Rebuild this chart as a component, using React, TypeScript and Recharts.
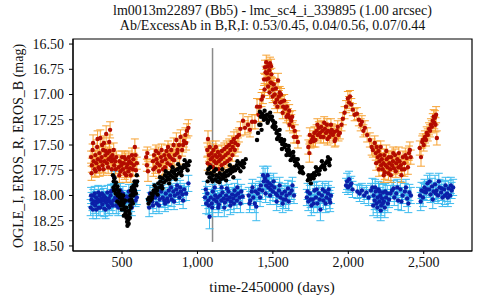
import {
  ErrorBar,
  ReferenceArea,
  ReferenceLine,
  Scatter,
  ScatterChart,
  XAxis,
  YAxis,
} from "recharts";

// [day, mag, err]
const erosR: [number, number, number][] = [
  [295, 17.62, 0.06], [300, 17.7, 0.07], [305, 17.55, 0.06], [312, 17.66, 0.06], [318, 17.74, 0.07],
  [323, 17.6, 0.05], [330, 17.68, 0.06], [335, 17.52, 0.07], [340, 17.64, 0.06], [345, 17.72, 0.06],
  [350, 17.58, 0.06], [356, 17.43, 0.08], [360, 17.66, 0.05], [365, 17.62, 0.06], [370, 17.7, 0.07],
  [375, 17.55, 0.06], [380, 17.48, 0.07], [385, 17.66, 0.05], [390, 17.6, 0.06], [395, 17.39, 0.08],
  [400, 17.68, 0.06], [405, 17.58, 0.06], [410, 17.64, 0.05], [415, 17.47, 0.07], [421, 17.35, 0.08],
  [425, 17.62, 0.06], [430, 17.66, 0.05], [436, 17.6, 0.06], [442, 17.64, 0.06], [448, 17.7, 0.05],
  [455, 17.66, 0.06], [462, 17.62, 0.06],
  [298, 17.78, 0.07], [308, 17.48, 0.08], [326, 17.76, 0.06], [338, 17.44, 0.08], [352, 17.74, 0.07],
  [368, 17.5, 0.07], [378, 17.74, 0.06], [392, 17.56, 0.07], [408, 17.72, 0.06], [418, 17.56, 0.07],
  [432, 17.74, 0.06], [445, 17.55, 0.07], [458, 17.74, 0.07],
  [478, 17.72, 0.06], [484, 17.66, 0.06], [490, 17.76, 0.06], [495, 17.7, 0.05], [500, 17.62, 0.06],
  [506, 17.74, 0.06], [512, 17.68, 0.05], [518, 17.78, 0.06], [524, 17.64, 0.06], [530, 17.72, 0.05],
  [536, 17.69, 0.06], [542, 17.76, 0.06], [548, 17.66, 0.06], [554, 17.73, 0.06], [560, 17.68, 0.05],
  [566, 17.6, 0.07], [572, 17.74, 0.06], [578, 17.7, 0.06], [585, 17.52, 0.08], [592, 17.75, 0.06],
  [598, 17.68, 0.06],
  [482, 17.8, 0.07], [498, 17.68, 0.06], [515, 17.62, 0.06], [528, 17.8, 0.07], [545, 17.62, 0.06],
  [558, 17.8, 0.07], [575, 17.64, 0.06], [590, 17.6, 0.07],
  [660, 17.62, 0.07], [665, 17.7, 0.06], [668, 17.58, 0.06], [672, 17.76, 0.1],
  [705, 17.66, 0.06], [712, 17.6, 0.06], [720, 17.72, 0.06], [728, 17.64, 0.05], [735, 17.68, 0.06],
  [742, 17.58, 0.06], [750, 17.7, 0.05], [758, 17.62, 0.06], [765, 17.66, 0.06], [772, 17.74, 0.06],
  [780, 17.6, 0.05], [788, 17.64, 0.06], [795, 17.56, 0.06], [802, 17.68, 0.06], [810, 17.6, 0.05],
  [818, 17.62, 0.06], [826, 17.55, 0.06], [835, 17.64, 0.06], [842, 17.5, 0.07], [850, 17.6, 0.06],
  [860, 17.45, 0.07], [868, 17.55, 0.06], [878, 17.5, 0.06], [888, 17.42, 0.07], [898, 17.55, 0.06],
  [910, 17.46, 0.06], [920, 17.4, 0.07], [930, 17.36, 0.07], [940, 17.33, 0.08],
  [708, 17.74, 0.07], [725, 17.56, 0.06], [745, 17.76, 0.07], [762, 17.55, 0.06], [785, 17.72, 0.07],
  [805, 17.52, 0.06], [822, 17.7, 0.06], [845, 17.65, 0.07], [865, 17.58, 0.06], [882, 17.62, 0.07],
  [905, 17.5, 0.07], [925, 17.48, 0.07],
  [1065, 17.55, 0.07], [1070, 17.44, 0.08], [1076, 17.6, 0.06], [1082, 17.52, 0.06], [1088, 17.64, 0.06],
  [1094, 17.58, 0.06], [1100, 17.62, 0.05], [1106, 17.55, 0.06], [1112, 17.66, 0.06], [1118, 17.6, 0.06],
  [1124, 17.68, 0.05], [1130, 17.62, 0.06], [1136, 17.57, 0.06], [1142, 17.66, 0.06], [1148, 17.6, 0.05],
  [1155, 17.64, 0.06], [1162, 17.56, 0.06], [1170, 17.62, 0.06], [1178, 17.54, 0.06], [1186, 17.6, 0.05],
  [1194, 17.52, 0.06], [1202, 17.58, 0.06], [1210, 17.5, 0.06], [1218, 17.55, 0.06], [1226, 17.47, 0.06],
  [1234, 17.52, 0.06], [1242, 17.44, 0.07], [1250, 17.48, 0.06], [1262, 17.42, 0.07], [1275, 17.4, 0.07],
  [1285, 17.34, 0.07],
  [1068, 17.68, 0.07], [1085, 17.7, 0.06], [1104, 17.72, 0.06], [1122, 17.52, 0.06], [1140, 17.74, 0.06],
  [1160, 17.7, 0.06], [1180, 17.68, 0.06], [1198, 17.66, 0.06], [1215, 17.64, 0.06], [1232, 17.6, 0.06],
  [1248, 17.55, 0.06], [1268, 17.5, 0.07],
  [1302, 17.26, 0.07], [1315, 17.33, 0.07], [1335, 17.3, 0.08], [1348, 17.35, 0.07], [1362, 17.27, 0.07],
  [1381, 17.27, 0.07], [1395, 17.12, 0.08], [1405, 17.2, 0.07], [1414, 17.12, 0.07], [1425, 17.05, 0.07],
  [1434, 17.02, 0.07],
  [1442, 16.85, 0.06], [1448, 16.73, 0.07], [1452, 16.78, 0.06], [1456, 16.68, 0.07], [1461, 16.79, 0.06],
  [1466, 16.72, 0.06], [1471, 16.84, 0.06], [1476, 16.76, 0.06], [1481, 16.69, 0.06], [1486, 16.88, 0.06],
  [1490, 16.8, 0.06], [1494, 16.89, 0.06], [1500, 16.95, 0.06], [1506, 16.9, 0.06], [1512, 17.0, 0.06],
  [1520, 16.94, 0.06], [1527, 17.05, 0.06], [1534, 16.86, 0.07], [1540, 17.02, 0.06], [1548, 17.08, 0.06],
  [1554, 17.0, 0.06], [1560, 17.07, 0.06], [1568, 17.12, 0.06], [1575, 17.06, 0.06], [1582, 17.14, 0.06],
  [1593, 17.12, 0.06], [1600, 17.2, 0.06], [1608, 17.16, 0.06], [1613, 17.23, 0.06], [1622, 17.26, 0.06],
  [1633, 17.32, 0.06], [1645, 17.36, 0.06], [1655, 17.42, 0.06], [1666, 17.47, 0.06],
  [1445, 16.95, 0.06], [1458, 16.85, 0.06], [1468, 16.92, 0.06], [1478, 16.98, 0.06], [1488, 16.72, 0.07],
  [1498, 17.02, 0.06], [1515, 17.08, 0.06], [1530, 17.12, 0.06], [1545, 16.98, 0.06], [1565, 17.18, 0.06],
  [1590, 17.22, 0.06], [1610, 17.3, 0.06], [1628, 17.22, 0.06], [1640, 17.42, 0.06],
  [1735, 17.52, 0.07], [1742, 17.58, 0.09], [1750, 17.47, 0.06], [1759, 17.45, 0.06], [1766, 17.42, 0.06],
  [1775, 17.38, 0.06], [1782, 17.45, 0.07], [1790, 17.36, 0.06], [1798, 17.4, 0.06], [1805, 17.33, 0.06],
  [1812, 17.38, 0.06], [1820, 17.32, 0.06], [1828, 17.36, 0.06], [1836, 17.42, 0.06], [1845, 17.34, 0.06],
  [1852, 17.38, 0.06], [1858, 17.3, 0.06], [1866, 17.36, 0.06], [1874, 17.42, 0.06], [1882, 17.38, 0.06],
  [1890, 17.35, 0.06], [1898, 17.4, 0.06], [1906, 17.37, 0.06], [1915, 17.44, 0.07], [1925, 17.36, 0.06],
  [1935, 17.4, 0.06], [1944, 17.38, 0.06], [1955, 17.3, 0.06], [1964, 17.24, 0.06], [1975, 17.18, 0.06],
  [1985, 17.12, 0.06], [1997, 17.04, 0.07], [2005, 17.08, 0.06], [2011, 17.02, 0.06], [2020, 17.1, 0.06],
  [2030, 17.15, 0.06], [2042, 17.2, 0.06], [2057, 17.19, 0.06], [2070, 17.25, 0.06], [2082, 17.3, 0.06],
  [2090, 17.27, 0.06], [2100, 17.36, 0.06], [2110, 17.33, 0.07], [2125, 17.4, 0.07], [2143, 17.45, 0.07],
  [2155, 17.52, 0.08], [2163, 17.55, 0.07],
  [1745, 17.4, 0.07], [1770, 17.46, 0.06], [1795, 17.3, 0.06], [1818, 17.42, 0.06], [1840, 17.28, 0.06],
  [1862, 17.44, 0.06], [1885, 17.3, 0.06], [1910, 17.46, 0.06], [1930, 17.32, 0.06],
  [2175, 17.48, 0.07], [2182, 17.58, 0.07], [2188, 17.52, 0.06], [2195, 17.62, 0.06], [2200, 17.56, 0.06],
  [2206, 17.66, 0.06], [2212, 17.6, 0.06], [2218, 17.7, 0.06], [2222, 17.64, 0.06], [2228, 17.74, 0.06],
  [2233, 17.68, 0.06], [2238, 17.6, 0.06], [2242, 17.77, 0.07], [2248, 17.7, 0.06], [2254, 17.64, 0.06],
  [2260, 17.72, 0.06], [2266, 17.78, 0.07], [2272, 17.68, 0.06], [2278, 17.74, 0.06], [2284, 17.62, 0.06],
  [2290, 17.7, 0.06], [2296, 17.66, 0.06], [2302, 17.73, 0.06], [2310, 17.6, 0.06], [2318, 17.68, 0.06],
  [2325, 17.64, 0.06], [2332, 17.72, 0.06], [2340, 17.66, 0.06], [2348, 17.7, 0.06], [2355, 17.74, 0.06],
  [2362, 17.62, 0.06], [2370, 17.68, 0.06], [2378, 17.6, 0.07], [2388, 17.63, 0.06], [2395, 17.72, 0.07],
  [2402, 17.58, 0.07], [2408, 17.55, 0.08], [2414, 17.62, 0.07],
  [2185, 17.68, 0.07], [2203, 17.74, 0.07], [2215, 17.52, 0.06], [2235, 17.8, 0.07], [2252, 17.56, 0.06],
  [2268, 17.62, 0.06], [2282, 17.8, 0.07], [2298, 17.58, 0.06], [2315, 17.76, 0.06], [2335, 17.58, 0.06],
  [2352, 17.8, 0.07], [2372, 17.74, 0.07],
  [2474, 17.53, 0.07], [2482, 17.62, 0.09], [2490, 17.47, 0.06], [2494, 17.45, 0.06], [2500, 17.5, 0.06],
  [2508, 17.42, 0.06], [2515, 17.45, 0.06], [2520, 17.38, 0.06], [2527, 17.4, 0.06], [2535, 17.34, 0.06],
  [2542, 17.36, 0.06], [2548, 17.3, 0.06], [2554, 17.32, 0.06], [2560, 17.26, 0.07], [2566, 17.22, 0.07],
  [2570, 17.28, 0.06], [2574, 17.23, 0.07], [2578, 17.3, 0.07], [2582, 17.2, 0.08], [2587, 17.43, 0.07],
];

// [day, mag, err]
const erosB: [number, number, number][] = [
  [292, 18.12, 0.08], [298, 18.04, 0.07], [304, 18.08, 0.07], [310, 18.0, 0.06], [316, 18.06, 0.07],
  [322, 18.1, 0.08], [328, 18.02, 0.06], [334, 18.07, 0.07], [340, 18.04, 0.06], [346, 18.12, 0.08],
  [352, 18.0, 0.06], [358, 18.06, 0.07], [364, 18.03, 0.06], [370, 18.09, 0.07], [376, 18.05, 0.06],
  [382, 18.13, 0.08], [388, 18.02, 0.06], [394, 18.07, 0.07], [400, 18.04, 0.06], [406, 18.1, 0.08],
  [412, 18.03, 0.06], [418, 18.06, 0.07], [424, 18.0, 0.06], [430, 18.08, 0.07], [436, 17.95, 0.06],
  [442, 18.05, 0.07], [448, 17.82, 0.06], [455, 18.02, 0.06], [462, 18.1, 0.08], [470, 18.04, 0.06],
  [478, 18.0, 0.07], [486, 18.06, 0.06], [494, 18.02, 0.07], [502, 18.08, 0.08], [510, 18.03, 0.06],
  [520, 18.06, 0.07], [530, 18.01, 0.06], [540, 18.05, 0.07], [550, 18.02, 0.06], [560, 18.08, 0.08],
  [570, 18.0, 0.06], [580, 17.98, 0.07], [590, 18.05, 0.06], [598, 18.02, 0.07],
  [295, 18.0, 0.08], [307, 18.14, 0.09], [319, 17.98, 0.07], [331, 18.14, 0.09], [343, 17.97, 0.07],
  [355, 18.12, 0.08], [367, 17.98, 0.07], [379, 18.0, 0.07], [391, 18.14, 0.09], [403, 17.97, 0.07],
  [415, 18.12, 0.08], [427, 17.96, 0.07], [439, 18.1, 0.08], [458, 17.96, 0.07], [475, 18.12, 0.08],
  [490, 17.95, 0.07], [506, 17.98, 0.07], [525, 18.12, 0.09], [545, 17.96, 0.07], [565, 18.12, 0.08],
  [585, 17.95, 0.07],
  [680, 18.12, 0.09], [690, 18.04, 0.07], [700, 18.06, 0.07], [710, 17.98, 0.06], [720, 18.02, 0.07],
  [730, 18.08, 0.08], [740, 18.0, 0.06], [750, 18.04, 0.07], [760, 17.96, 0.06], [770, 18.02, 0.07],
  [780, 18.05, 0.07], [790, 17.98, 0.06], [800, 18.03, 0.07], [810, 17.95, 0.06], [820, 18.0, 0.06],
  [830, 18.04, 0.07], [840, 17.96, 0.06], [850, 18.0, 0.07], [860, 17.94, 0.06], [870, 17.98, 0.06],
  [880, 18.02, 0.07], [890, 17.96, 0.06], [900, 17.99, 0.07], [912, 17.94, 0.06], [925, 17.98, 0.07],
  [940, 17.88, 0.08],
  [685, 17.98, 0.08], [705, 18.1, 0.08], [725, 17.95, 0.07], [745, 18.1, 0.08], [765, 17.92, 0.07],
  [785, 18.08, 0.08], [805, 18.06, 0.08], [825, 17.92, 0.07], [845, 18.06, 0.08], [865, 17.9, 0.07],
  [885, 17.92, 0.07], [905, 18.05, 0.08],
  [1050, 18.02, 0.08], [1058, 18.08, 0.1], [1065, 17.98, 0.07], [1072, 18.05, 0.08], [1080, 18.21, 0.12],
  [1088, 18.02, 0.08], [1095, 18.08, 0.09], [1102, 17.96, 0.07], [1110, 18.04, 0.08], [1118, 18.0, 0.07],
  [1126, 18.06, 0.08], [1134, 18.02, 0.07], [1142, 18.09, 0.08], [1150, 18.0, 0.07], [1158, 18.05, 0.08],
  [1166, 17.97, 0.07], [1174, 18.03, 0.08], [1182, 18.07, 0.08], [1190, 18.0, 0.07], [1198, 18.04, 0.07],
  [1206, 17.96, 0.07], [1214, 18.02, 0.08], [1222, 18.06, 0.08], [1230, 17.99, 0.07], [1238, 18.03, 0.07],
  [1246, 17.95, 0.07], [1254, 18.0, 0.07], [1262, 18.05, 0.08], [1270, 17.98, 0.07], [1280, 18.02, 0.07],
  [1290, 17.96, 0.07], [1300, 18.01, 0.07],
  [1055, 17.94, 0.08], [1075, 18.1, 0.09], [1098, 18.12, 0.09], [1115, 17.92, 0.08], [1138, 18.12, 0.09],
  [1160, 17.92, 0.08], [1178, 18.12, 0.09], [1195, 17.93, 0.08], [1218, 18.1, 0.09], [1242, 18.08, 0.09],
  [1265, 17.92, 0.08], [1285, 18.08, 0.09],
  [1340, 18.0, 0.08], [1350, 18.05, 0.09], [1360, 17.96, 0.08], [1370, 18.02, 0.08], [1380, 18.08, 0.09],
  [1390, 18.11, 0.14], [1400, 17.98, 0.08], [1410, 17.94, 0.08], [1420, 17.9, 0.08], [1430, 17.95, 0.09],
  [1440, 17.86, 0.08], [1448, 17.83, 0.1], [1455, 17.9, 0.08], [1462, 17.86, 0.08], [1470, 17.92, 0.09],
  [1478, 17.88, 0.08], [1485, 17.94, 0.08], [1492, 17.9, 0.08], [1500, 17.96, 0.09], [1510, 17.92, 0.08],
  [1520, 17.98, 0.08], [1530, 18.0, 0.09], [1540, 17.95, 0.08], [1550, 18.02, 0.09], [1560, 17.98, 0.08],
  [1570, 18.04, 0.09], [1580, 17.96, 0.08], [1590, 18.0, 0.09], [1600, 17.93, 0.08], [1612, 17.98, 0.08],
  [1625, 17.95, 0.09], [1640, 18.0, 0.08],
  [1345, 18.08, 0.09], [1365, 17.92, 0.08], [1385, 17.96, 0.08], [1415, 18.02, 0.09], [1435, 17.8, 0.09],
  [1452, 17.98, 0.09], [1465, 17.8, 0.09], [1482, 18.0, 0.09], [1505, 17.86, 0.08], [1525, 18.06, 0.09],
  [1545, 17.9, 0.08], [1565, 18.08, 0.09], [1585, 18.04, 0.09], [1605, 18.06, 0.09], [1630, 17.9, 0.08],
  [1725, 18.02, 0.08], [1735, 18.06, 0.09], [1745, 17.98, 0.08], [1755, 18.1, 0.1], [1765, 18.04, 0.08],
  [1775, 17.95, 0.08], [1785, 18.02, 0.09], [1795, 18.08, 0.09], [1805, 17.98, 0.08], [1815, 18.14, 0.11],
  [1825, 18.0, 0.08], [1835, 18.05, 0.09], [1845, 17.96, 0.08], [1855, 18.02, 0.08], [1865, 17.98, 0.08],
  [1875, 18.04, 0.09], [1885, 18.0, 0.08],
  [1730, 17.96, 0.08], [1750, 18.04, 0.08], [1770, 18.08, 0.09], [1790, 17.94, 0.08], [1810, 18.04, 0.08],
  [1830, 17.94, 0.08], [1850, 18.08, 0.09], [1870, 17.94, 0.08], [1880, 18.07, 0.09],
  [1985, 17.9, 0.07], [1992, 17.86, 0.08], [1998, 17.92, 0.07], [2005, 17.84, 0.08], [2012, 17.9, 0.07],
  [2020, 17.88, 0.07], [2028, 17.94, 0.08],
  [2060, 17.96, 0.07], [2075, 17.98, 0.08], [2090, 17.95, 0.07], [2105, 18.0, 0.08], [2120, 17.97, 0.07],
  [2135, 18.02, 0.08], [2150, 17.95, 0.07], [2160, 17.92, 0.09], [2168, 18.0, 0.08], [2175, 18.05, 0.09],
  [2182, 17.96, 0.08], [2188, 18.08, 0.09], [2195, 18.02, 0.08], [2200, 17.94, 0.08], [2206, 18.06, 0.09],
  [2212, 18.0, 0.08], [2218, 18.1, 0.1], [2224, 18.03, 0.08], [2230, 17.97, 0.08], [2236, 18.06, 0.09],
  [2242, 18.12, 0.1], [2250, 18.02, 0.08], [2258, 17.98, 0.08], [2270, 18.04, 0.08], [2290, 17.95, 0.08],
  [2305, 18.02, 0.08], [2318, 17.98, 0.08], [2330, 18.05, 0.09], [2345, 17.94, 0.08], [2360, 18.0, 0.08],
  [2375, 17.96, 0.08], [2390, 18.03, 0.08], [2405, 17.97, 0.08], [2415, 18.0, 0.08],
  [2165, 18.1, 0.1], [2178, 17.92, 0.08], [2192, 18.12, 0.1], [2208, 17.96, 0.08], [2215, 18.15, 0.1],
  [2228, 18.08, 0.09], [2245, 17.96, 0.08], [2262, 18.08, 0.09], [2280, 17.98, 0.08], [2300, 17.93, 0.08],
  [2325, 17.92, 0.08], [2352, 18.06, 0.09], [2382, 17.92, 0.08], [2398, 18.08, 0.09],
  [2475, 18.0, 0.08], [2485, 17.95, 0.08], [2495, 18.02, 0.09], [2505, 17.92, 0.08], [2515, 17.97, 0.08],
  [2525, 17.88, 0.08], [2535, 17.94, 0.08], [2545, 17.99, 0.08], [2555, 17.91, 0.08], [2565, 17.96, 0.08],
  [2575, 17.89, 0.09], [2585, 17.95, 0.08], [2595, 18.0, 0.08], [2605, 17.92, 0.08], [2615, 17.97, 0.08],
  [2625, 18.02, 0.09], [2635, 17.94, 0.08], [2645, 17.9, 0.08], [2655, 17.98, 0.08], [2665, 17.93, 0.08],
  [2675, 18.0, 0.08], [2685, 17.95, 0.08], [2695, 17.92, 0.08],
  [2480, 18.06, 0.09], [2500, 17.96, 0.08], [2520, 17.94, 0.08], [2540, 17.86, 0.08], [2560, 18.04, 0.09],
  [2580, 17.98, 0.08], [2600, 17.86, 0.08], [2620, 17.93, 0.08], [2640, 18.0, 0.09], [2660, 18.02, 0.09],
  [2680, 17.9, 0.08],
];

// [day, mag]
const ogleI: [number, number][] = [
  [440, 17.8], [445, 17.86], [448, 17.95], [450, 17.83], [455, 17.9], [460, 17.87], [465, 17.94],
  [470, 17.91], [472, 18.0], [475, 17.98], [480, 17.95], [485, 18.02], [490, 17.99], [492, 18.1],
  [495, 18.06], [500, 18.03], [505, 18.1], [508, 18.0], [510, 18.08], [514, 18.14], [518, 18.12],
  [520, 18.05], [522, 18.18], [526, 18.16], [530, 18.22], [534, 18.26], [538, 18.2], [542, 18.24],
  [546, 18.15], [548, 18.05], [550, 18.18], [554, 18.1], [558, 18.12], [560, 17.95], [562, 18.04],
  [566, 18.06], [570, 17.98], [575, 18.0], [577, 17.9], [580, 17.93], [585, 17.95], [590, 17.88],
  [595, 17.9], [600, 17.86],
  [443, 17.92], [458, 17.98], [468, 18.06], [482, 18.08], [498, 18.14], [512, 18.2], [528, 18.12],
  [536, 18.3], [544, 18.28], [552, 18.22], [556, 18.0], [565, 17.92], [572, 18.08], [583, 17.86],
  [592, 17.98], [598, 17.8],
  [672, 18.04], [680, 18.02], [688, 18.05], [695, 17.98], [702, 18.0], [710, 17.95], [718, 17.97],
  [725, 17.92], [732, 17.95], [740, 17.88], [748, 17.92], [755, 17.86], [762, 17.9], [770, 17.83],
  [778, 17.87], [785, 17.8], [792, 17.85], [800, 17.82], [808, 17.78], [815, 17.84], [822, 17.8],
  [830, 17.76], [838, 17.82], [845, 17.78], [852, 17.75], [860, 17.8], [868, 17.74], [876, 17.78],
  [884, 17.72], [892, 17.76], [900, 17.73], [910, 17.7], [920, 17.72], [930, 17.68], [940, 17.7],
  [948, 17.66],
  [676, 18.08], [698, 18.03], [715, 17.9], [735, 17.99], [752, 17.82], [768, 17.93], [790, 17.76],
  [812, 17.88], [835, 17.72], [856, 17.84], [872, 17.69], [895, 17.8], [915, 17.65], [935, 17.75],
  [1065, 17.78], [1072, 17.74], [1080, 17.82], [1088, 17.78], [1095, 17.84], [1102, 17.8], [1110, 17.76],
  [1118, 17.84], [1125, 17.8], [1132, 17.86], [1140, 17.82], [1148, 17.78], [1155, 17.84], [1162, 17.8],
  [1170, 17.83], [1178, 17.78], [1186, 17.81], [1194, 17.76], [1202, 17.8], [1210, 17.75], [1218, 17.78],
  [1226, 17.73], [1234, 17.76], [1242, 17.72], [1250, 17.75], [1260, 17.7], [1270, 17.73], [1280, 17.68],
  [1290, 17.7], [1300, 17.66], [1310, 17.68], [1320, 17.64],
  [1068, 17.86], [1085, 17.72], [1100, 17.86], [1122, 17.74], [1145, 17.87], [1165, 17.74], [1190, 17.85],
  [1215, 17.7], [1238, 17.82], [1265, 17.66], [1285, 17.76], [1305, 17.72],
  [1395, 17.45], [1402, 17.38], [1410, 17.3], [1414, 17.17], [1420, 17.22], [1428, 17.19], [1434, 17.22],
  [1440, 17.25], [1448, 17.21], [1455, 17.24], [1462, 17.2], [1470, 17.26], [1478, 17.22], [1486, 17.24],
  [1494, 17.22], [1500, 17.26], [1506, 17.3], [1512, 17.34], [1518, 17.32], [1524, 17.38], [1530, 17.36],
  [1536, 17.42], [1542, 17.4], [1550, 17.46], [1556, 17.44], [1562, 17.49], [1570, 17.47], [1578, 17.52],
  [1585, 17.5], [1592, 17.55], [1600, 17.57], [1606, 17.55], [1612, 17.6], [1620, 17.58], [1628, 17.63],
  [1636, 17.61], [1645, 17.66], [1652, 17.64], [1660, 17.68], [1668, 17.7], [1676, 17.72], [1684, 17.74],
  [1692, 17.76], [1700, 17.78],
  [1418, 17.3], [1425, 17.35], [1445, 17.16], [1465, 17.28], [1482, 17.18], [1498, 17.32], [1515, 17.28],
  [1528, 17.44], [1545, 17.35], [1560, 17.54], [1575, 17.45], [1590, 17.6], [1605, 17.51], [1618, 17.65],
  [1635, 17.57], [1650, 17.7], [1665, 17.64], [1680, 17.77], [1695, 17.72],
  [1732, 17.85], [1740, 17.83], [1748, 17.84], [1756, 17.8], [1764, 17.82], [1772, 17.78], [1780, 17.8],
  [1790, 17.76], [1800, 17.74], [1810, 17.75], [1820, 17.72], [1830, 17.7], [1840, 17.71], [1850, 17.68],
  [1860, 17.66], [1870, 17.67], [1878, 17.64],
  [1736, 17.8], [1752, 17.88], [1770, 17.83], [1785, 17.72], [1805, 17.79], [1825, 17.66], [1845, 17.74],
  [1865, 17.62], [1875, 17.7],
];

const xTicks = [500, 1000, 1500, 2000, 2500];
const yTicks = [16.5, 16.75, 17.0, 17.25, 17.5, 17.75, 18.0, 18.25, 18.5];
const markerDay = 1100;
const markerRange = [16.54, 18.46];

const X_DOMAIN = [175, 2820];
const Y_DOMAIN = [16.45, 18.55];
const FONT = "Liberation Serif";

const redData = erosR.map(([x, y, err]) => ({ x, y, err }));
const blueData = erosB.map(([x, y, err]) => ({ x, y, err }));
const blackData = ogleI.map(([x, y]) => ({ x, y }));

const dot = (fill: string) => (props: any) =>
  <circle cx={props.cx} cy={props.cy} r={2.2} fill={fill} />;

const YLabel = () => (
  <text
    x={18}
    y={146}
    transform="rotate(-90, 18, 146)"
    textAnchor="middle"
    dominantBaseline="central"
    fontFamily={FONT}
    fontSize={14}
    fill="#111"
  >
    OGLE_I, EROS_R, EROS_B (mag)
  </text>
);

const XLabel = () => (
  <text x={272} y={292} textAnchor="middle" fontFamily={FONT} fontSize={15} fill="#111">
    time-2450000 (days)
  </text>
);

export default function App() {
  return (
    <div style={{ position: "absolute", left: 0, top: 0, width: 480, height: 300, background: "#fff" }}>
      <div
        style={{
          position: "absolute",
          left: 73,
          width: 399,
          top: 3,
          textAlign: "center",
          fontFamily: FONT,
          fontSize: 14,
          lineHeight: "15px",
          color: "#111",
        }}
      >
        lm0013m22897 (Bb5) - lmc_sc4_i_339895 (1.00 arcsec)
        <br />
        Ab/ExcessAb in B,R,I: 0.53/0.45, 0.04/0.56, 0.07/0.44
      </div>
      <ScatterChart width={480} height={300} margin={{ top: 39, right: 8, left: 0, bottom: 0 }}>
        <XAxis
          type="number"
          dataKey="x"
          domain={X_DOMAIN}
          ticks={xTicks}
          allowDataOverflow
          height={49}
          tickSize={3}
          tickMargin={3}
          stroke="#000"
          tick={{ fill: "#111", fontSize: 14, fontFamily: FONT }}
          tickFormatter={(v: number) => v.toLocaleString("en-US")}
          label={<XLabel />}
        />
        <YAxis
          type="number"
          dataKey="y"
          domain={Y_DOMAIN}
          ticks={yTicks}
          reversed
          allowDataOverflow
          width={73}
          tickSize={4}
          tickMargin={5}
          stroke="#000"
          tick={{ fill: "#111", fontSize: 14, fontFamily: FONT }}
          tickFormatter={(v: number) => v.toFixed(2)}
          label={<YLabel />}
        />
        <ReferenceArea
          x1={X_DOMAIN[0]}
          x2={X_DOMAIN[1]}
          y1={Y_DOMAIN[0]}
          y2={Y_DOMAIN[1]}
          fill="none"
          fillOpacity={0}
          stroke="#000"
          strokeWidth={1.2}
        />
        <ReferenceLine
          segment={[
            { x: markerDay, y: markerRange[0] },
            { x: markerDay, y: markerRange[1] },
          ]}
          stroke="#8a8a8a"
          strokeWidth={1.5}
        />
        <Scatter data={blueData} isAnimationActive={false} shape={dot("#0b1fa8")}>
          <ErrorBar dataKey="err" direction="y" width={4} stroke="#3dbbef" strokeWidth={1} />
        </Scatter>
        <Scatter data={redData} isAnimationActive={false} shape={dot("#b30c00")}>
          <ErrorBar dataKey="err" direction="y" width={4} stroke="#f7a233" strokeWidth={1} />
        </Scatter>
        <Scatter data={blackData} isAnimationActive={false} shape={dot("#000")} />
      </ScatterChart>
    </div>
  );
}
